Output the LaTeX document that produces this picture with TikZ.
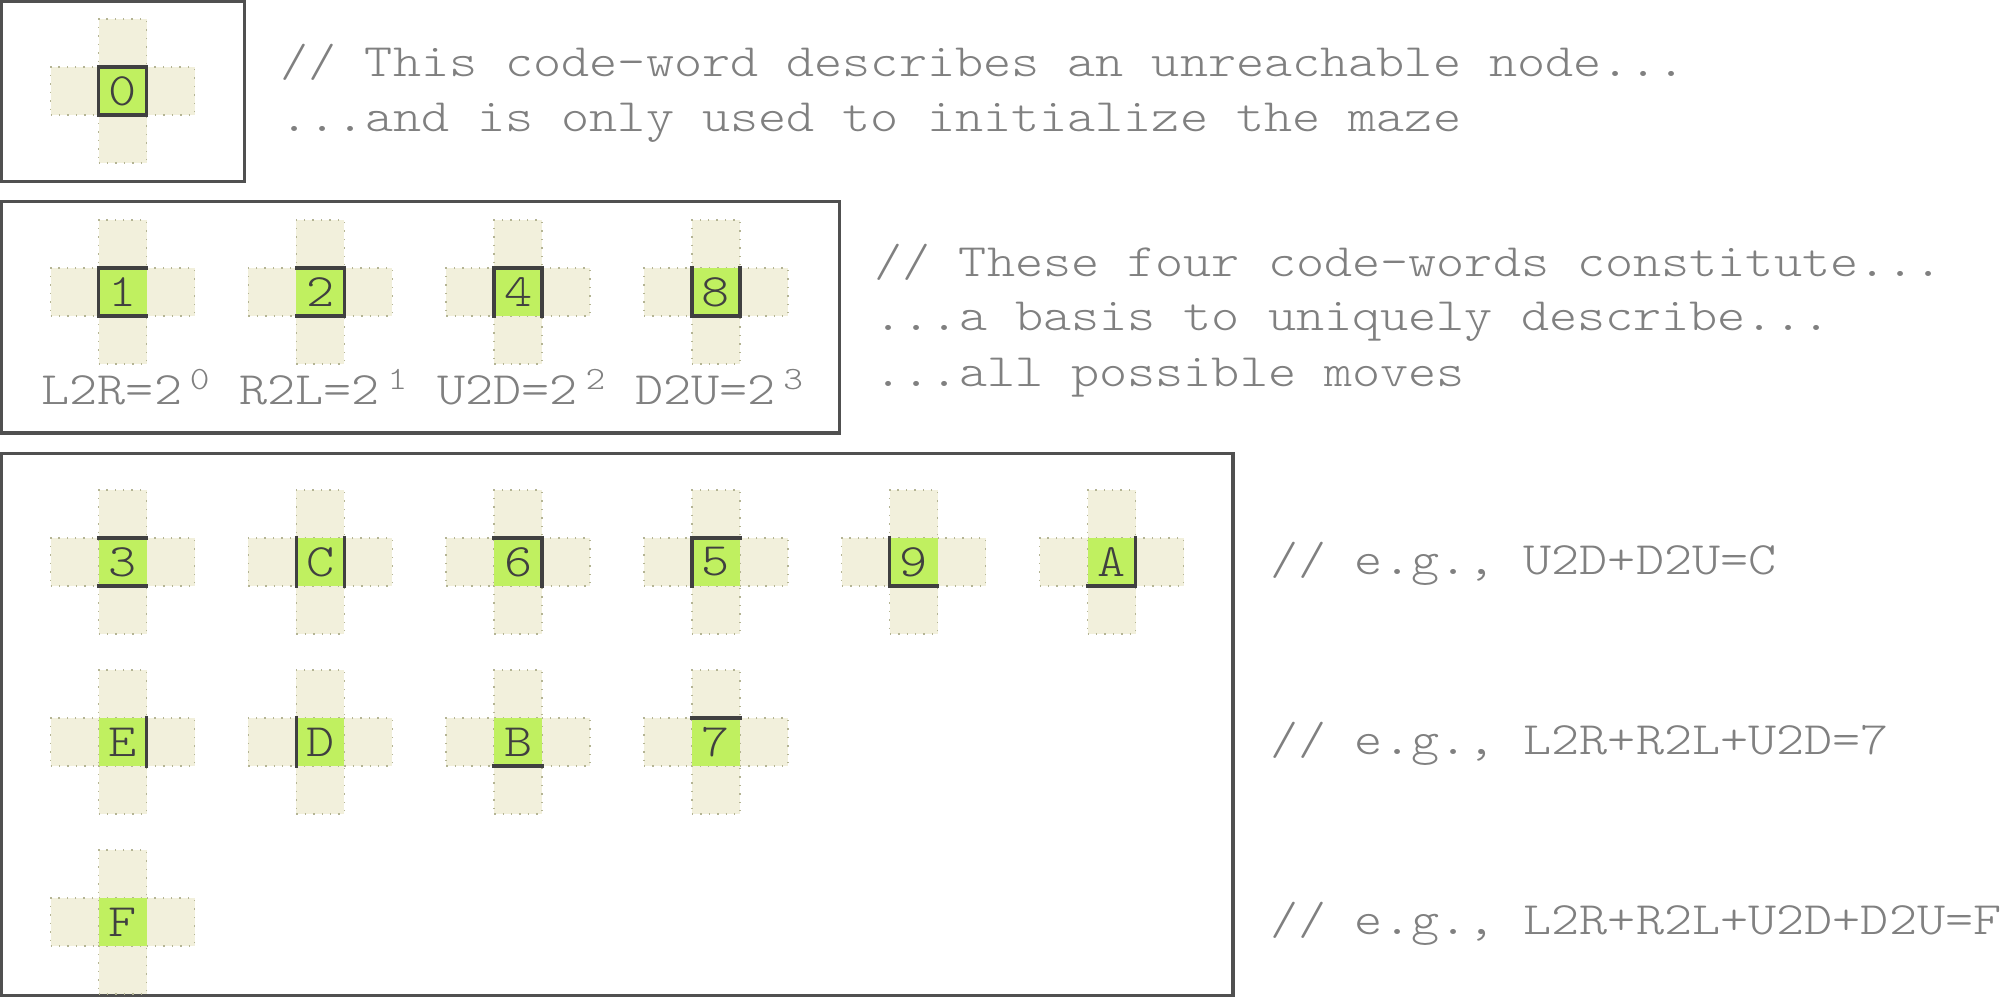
\documentclass[tikz,border=0pt]{standalone}
\usepackage{fontspec}
\usepackage{xcolor}
\usepackage{tikz}
\usetikzlibrary{positioning}

\newfontfamily\codefont[Extension=.otf, FakeStretch=1.154]{lmmonolt10-regular}

\definecolor{cellgreen}{HTML}{C0F060}
\definecolor{armbeige}{HTML}{F2F0DC}
\definecolor{armdots}{HTML}{B4B494}
\definecolor{wallgray}{HTML}{404040}
\definecolor{framegray}{HTML}{505050}
\definecolor{notegray}{HTML}{808080}

\newcommand{\codeword}[4]{%
  \coordinate (#1) at (#2);
  \node (#1-l) [arm, left=0.24cm of #1] {};
  \node (#1-r) [arm, right=0.24cm of #1] {};
  \node (#1-u) [arm, above=0.24cm of #1] {};
  \node (#1-d) [arm, below=0.24cm of #1] {};
  \node (#1-c) [cell] at (#1) {#3};
  \pgfmathtruncatemacro\bitLR{mod(#4,2)}
  \pgfmathtruncatemacro\bitRL{mod(floor(#4/2),2)}
  \pgfmathtruncatemacro\bitUD{mod(floor(#4/4),2)}
  \pgfmathtruncatemacro\bitDU{floor(#4/8)}
  \ifnum\bitLR=0 \draw[wall] (#1-c.north east) -- (#1-c.south east);\fi
  \ifnum\bitRL=0 \draw[wall] (#1-c.north west) -- (#1-c.south west);\fi
  \ifnum\bitUD=0 \draw[wall] (#1-c.south west) -- (#1-c.south east);\fi
  \ifnum\bitDU=0 \draw[wall] (#1-c.north west) -- (#1-c.north east);\fi
}

\begin{document}
\begin{tikzpicture}[node distance=1.978cm]

\tikzstyle{arm} =
[rectangle,
minimum size=0.48cm,
inner sep=0pt,
outer sep=0pt,
fill=armbeige,
draw=armdots,
line width=0.4pt,
dotted]

\tikzstyle{cell} =
[rectangle,
minimum size=0.48cm,
inner sep=0pt,
outer sep=0pt,
fill=cellgreen,
text=wallgray,
font=\codefont\fontsize{13.2}{16}\selectfont]

\tikzstyle{wall} =
[draw=wallgray,
line width=1pt,
line cap=rect]

\tikzstyle{frame} =
[draw=framegray,
line width=0.95pt]

\tikzstyle{note} =
[anchor=base west,
inner sep=0pt,
text=notegray,
font=\codefont\fontsize{13.2}{16}\selectfont]

\tikzstyle{move} =
[anchor=base,
inner sep=0pt,
text=notegray,
font=\codefont\fontsize{13.2}{16}\selectfont]

\useasboundingbox (0,0) rectangle (20,-9.97);

\draw[frame] (0.016,-0.016) rectangle (2.445,-1.813);
\draw[frame] (0.016,-2.017) rectangle (8.393,-4.330);
\draw[frame] (0.016,-4.535) rectangle (12.330,-9.954);

\codeword{w0}{1.225,-0.91}{0}{0}

\node (n0a) [note] at (2.80,-0.77) {// This code-word describes an unreachable node...};
\node (n0b) [note] at (2.80,-1.32) {...and is only used to initialize the maze};

\codeword{w1}{1.225,-2.92}{1}{1}
\codeword{w2}{3.203,-2.92}{2}{2}
\codeword{w4}{5.181,-2.92}{4}{4}
\codeword{w8}{7.159,-2.92}{8}{8}

\node (m1) [move] at (1.265,-4.05) {L2R=2\,\textsuperscript{0}};
\node (m2) [move] at (3.243,-4.05) {R2L=2\,\textsuperscript{1}};
\node (m4) [move] at (5.221,-4.05) {U2D=2\,\textsuperscript{2}};
\node (m8) [move] at (7.199,-4.05) {D2U=2\,\textsuperscript{3}};

\node (n1a) [note] at (8.74,-2.77) {// These four code-words constitute...};
\node (n1b) [note] at (8.74,-3.31) {...a basis to uniquely describe...};
\node (n1c) [note] at (8.74,-3.87) {...all possible moves};

\foreach \lab/\val [count=\i from 0] in {3/3, C/12, 6/6, 5/5, 9/9, A/10}
  \codeword{w\lab}{1.225+1.978*\i,-5.62}{\lab}{\val};

\foreach \lab/\val [count=\i from 0] in {E/14, D/13, B/11, 7/7}
  \codeword{w\lab}{1.225+1.978*\i,-7.42}{\lab}{\val};

\codeword{wF}{1.225,-9.22}{F}{15}

\node (n2a) [note] at (12.70,-5.75) {// e.g., U2D+D2U=C};
\node (n2b) [note] at (12.70,-7.55) {// e.g., L2R+R2L+U2D=7};
\node (n2c) [note] at (12.70,-9.35) {// e.g., L2R+R2L+U2D+D2U=F};

\end{tikzpicture}
\end{document}
